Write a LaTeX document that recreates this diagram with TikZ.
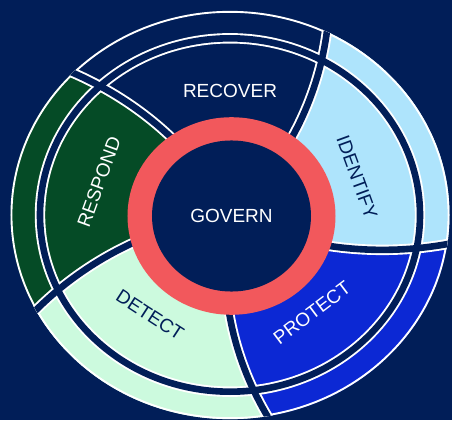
\documentclass[tikz,border=0pt]{standalone}
\usepackage{fontspec}
\setmainfont{Liberation Sans}
\definecolor{navy}{RGB}{1,30,88}
\definecolor{govred}{RGB}{242,88,92}
\definecolor{idblue}{RGB}{174,228,252}
\definecolor{prblue}{RGB}{12,40,212}
\definecolor{demint}{RGB}{204,250,222}
\definecolor{rsgreen}{RGB}{5,75,38}
% one curved divider of the wheel
\newcommand{\divcurve}[1]{plot[domain=60:240,samples=30] ({#1+0.09*(\x-105)}:\x)}
% one slice between two dividers
\newcommand{\slicepath}[2]{plot[domain=0:235,samples=30] ({#1+0.09*(\x-105)}:\x)
  arc[start angle={#1+11.7}, end angle={#2+11.7}, radius=235]
  -- plot[domain=0:235,samples=30] ({#2+0.09*(130-\x)}:{235-\x}) -- cycle}

\begin{document}
\begin{tikzpicture}[x=1pt, y=1pt,
    word/.style ={font=\fontsize{19}{19}\selectfont, inner sep=0pt},
    gapedge/.style ={white, line width=10.4pt},
    gapline/.style ={navy, line width=6.6pt}]
   \path[use as bounding box, fill=navy] (-230,-205) rectangle (222,215);
   \begin{scope}[yscale=0.93]
      \clip (0,0) circle[radius=219.5];
      \fill[idblue] \slicepath{-18.5}{53.5};
      \fill[navy] \slicepath{53.5}{125.5};
      \fill[rsgreen] \slicepath{125.5}{197.5};
      \fill[demint] \slicepath{197.5}{269.5};
      \fill[prblue] \slicepath{269.5}{341.5};
      \draw[white, line width=3.8pt] (0,0) circle[radius=219.5];
      \foreach \a in {-18.5,53.5,125.5,197.5,269.5}
         \draw[gapedge] \divcurve{\a};
      \draw[gapedge] (0,0) circle[radius=190];
      \foreach \a in {-18.5,53.5,125.5,197.5,269.5}
         \draw[gapline] \divcurve{\a};
      \draw[gapline] (0,0) circle[radius=190];
   \end{scope}
   \begin{scope}[shift={(1.5,-1)}, yscale=0.95]
      \fill[govred] (0,0) circle[radius=104];
      \fill[navy] (0,0) circle[radius=79.5];
   \end{scope}
   \node[word, text=white] (recover) at (0,124.5) {RECOVER};
   \node[word, text=white] (govern) at (1.5,-1) {GOVERN};
   \node[word, text=navy, rotate=-70] (identify) at (127,38) {IDENTIFY};
   \node[word, text=white, rotate=37] (protect) at (82,-98) {PROTECT};
   \node[word, text=navy, rotate=-33] (detect) at (-80,-100) {DETECT};
   \node[word, text=white, rotate=70] (respond) at (-131,33) {RESPOND};
\end{tikzpicture}
\end{document}
